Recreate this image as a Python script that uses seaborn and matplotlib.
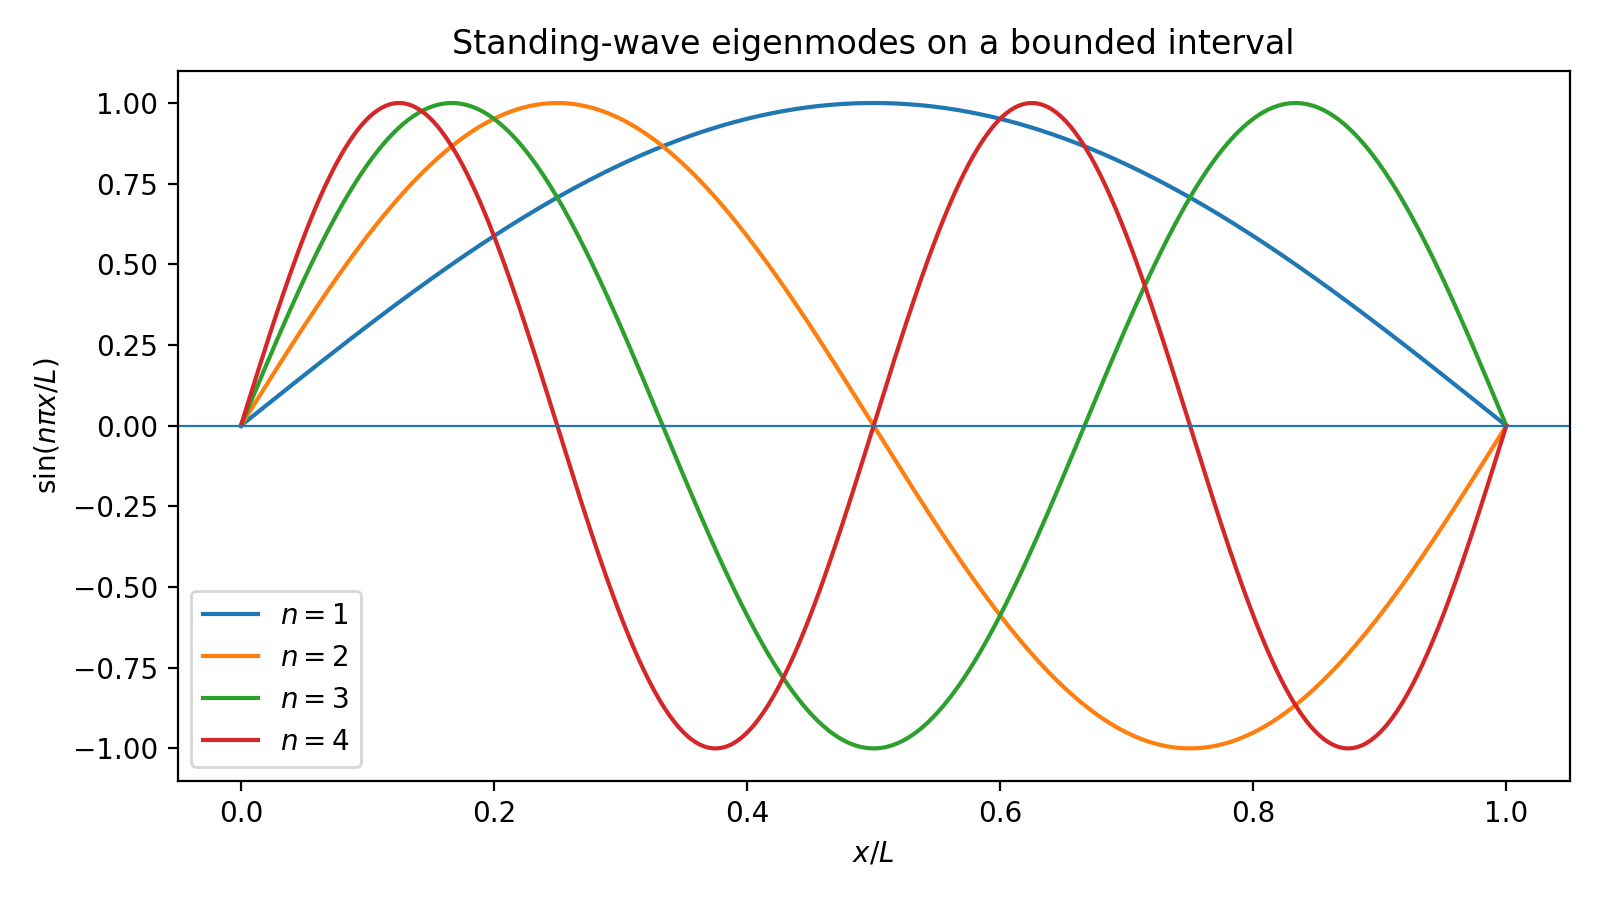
import numpy as np
import pandas as pd
import matplotlib
matplotlib.use("Agg")
import matplotlib.pyplot as plt
import seaborn as sns

# Mode numbers of the standing waves; curves are sin(n*pi*x/L)
modes = [1, 2, 3, 4]
mode_labels = ["$n=1$", "$n=2$", "$n=3$", "$n=4$"]
x_over_L = np.linspace(0.0, 1.0, 500)
x_ticks = [0.0, 0.2, 0.4, 0.6, 0.8, 1.0]
y_ticks = [-1.00, -0.75, -0.50, -0.25, 0.00, 0.25, 0.50, 0.75, 1.00]

frames = []
for n, lab in zip(modes, mode_labels):
    frames.append(pd.DataFrame({"x": x_over_L,
                                "y": np.sin(n * np.pi * x_over_L),
                                "mode": lab}))
df = pd.concat(frames, ignore_index=True)

fig, ax = plt.subplots(figsize=(8, 4.5), dpi=200)
palette = ["#1f77b4", "#ff7f0e", "#2ca02c", "#d62728"]
sns.lineplot(data=df, x="x", y="y", hue="mode", hue_order=mode_labels,
             palette=palette, linewidth=1.5, ax=ax, estimator=None, sort=False)
ax.axhline(0.0, color="#1f77b4", linewidth=0.8)
ax.set_xticks(x_ticks)
ax.set_yticks(y_ticks)
ax.set_xlabel("$x/L$")
ax.set_ylabel(r"$\sin(n\pi x/L)$")
ax.set_title("Standing-wave eigenmodes on a bounded interval")
ax.legend(loc="lower left", title=None)
fig.subplots_adjust(left=0.111, right=0.981, top=0.9214, bottom=0.1326)
fig.savefig("out.png", dpi=200)
